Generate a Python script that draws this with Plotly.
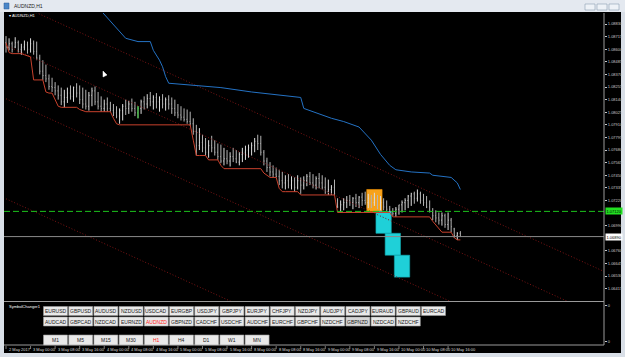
import plotly.graph_objects as go

W, H = 625, 357
def fx(px): return px / W
def fy(py): return 1 - py / H

# ---------------- data ----------------
bar_open = [1.0866, 1.0862, 1.0865, 1.0862, 1.0866, 1.0860, 1.0862, 1.0864, 1.0860, 1.0865,
            1.0858, 1.0852, 1.0840, 1.0836, 1.0833, 1.0826, 1.0825, 1.0822, 1.0818, 1.0812,
            1.0816, 1.0820, 1.0817, 1.0825, 1.0820, 1.0814, 1.0810, 1.0808, 1.0818, 1.0822,
            1.0812, 1.0808, 1.0806, 1.0810, 1.0806, 1.0804, 1.0802, 1.0799, 1.0804, 1.0808,
            1.0806, 1.0810, 1.0806, 1.0802, 1.0806, 1.0812, 1.0810, 1.0815, 1.0812, 1.0816,
            1.0812, 1.0814, 1.0810, 1.0814, 1.0810, 1.0806, 1.0802, 1.0800, 1.0798, 1.0796,
            1.0794, 1.0792, 1.0785, 1.0772, 1.0775, 1.0770, 1.0766, 1.0772, 1.0770, 1.0766,
            1.0762, 1.0758, 1.0760, 1.0758, 1.0762, 1.0760, 1.0757, 1.0764, 1.0766, 1.0768,
            1.0770, 1.0772, 1.0776, 1.0774, 1.0766, 1.0758, 1.0752, 1.0748, 1.0746, 1.0744,
            1.0740, 1.0738, 1.0740, 1.0736, 1.0740, 1.0734, 1.0740, 1.0736, 1.0740, 1.0744,
            1.0738, 1.0736, 1.0742, 1.0738, 1.0734, 1.0730, 1.0732, 1.0734, 1.0722, 1.0716,
            1.0718, 1.0720, 1.0722, 1.0720, 1.0724, 1.0720, 1.0725, 1.0722, 1.0720, 1.0724,
            1.0720, 1.0724, 1.0718, 1.0720, 1.0716, 1.0714, 1.0712, 1.0710, 1.0714, 1.0718,
            1.0720, 1.0722, 1.0726, 1.0728, 1.0724, 1.0728, 1.0722, 1.0720, 1.0716, 1.0712,
            1.0708, 1.0706, 1.0704, 1.0708, 1.0700, 1.0704, 1.0696, 1.0690, 1.0692]
bar_high = [1.0872, 1.0870, 1.0867, 1.0871, 1.0868, 1.0865, 1.0868, 1.0867, 1.0870, 1.0868,
            1.0867, 1.0855, 1.0850, 1.0846, 1.0837, 1.0834, 1.0830, 1.0827, 1.0825, 1.0823,
            1.0825, 1.0827, 1.0826, 1.0829, 1.0827, 1.0825, 1.0823, 1.0821, 1.0825, 1.0826,
            1.0821, 1.0817, 1.0814, 1.0816, 1.0812, 1.0810, 1.0808, 1.0806, 1.0810, 1.0814,
            1.0813, 1.0815, 1.0812, 1.0808, 1.0814, 1.0817, 1.0819, 1.0821, 1.0818, 1.0820,
            1.0817, 1.0819, 1.0816, 1.0818, 1.0816, 1.0814, 1.0810, 1.0808, 1.0806, 1.0805,
            1.0803, 1.0797, 1.0791, 1.0788, 1.0782, 1.0779, 1.0777, 1.0781, 1.0777, 1.0774,
            1.0773, 1.0770, 1.0768, 1.0766, 1.0770, 1.0768, 1.0766, 1.0770, 1.0772, 1.0773,
            1.0775, 1.0779, 1.0782, 1.0781, 1.0768, 1.0761, 1.0757, 1.0754, 1.0752, 1.0750,
            1.0748, 1.0745, 1.0746, 1.0744, 1.0743, 1.0745, 1.0743, 1.0744, 1.0746, 1.0748,
            1.0746, 1.0744, 1.0747, 1.0745, 1.0743, 1.0741, 1.0736, 1.0741, 1.0724, 1.0722,
            1.0724, 1.0726, 1.0727, 1.0725, 1.0728, 1.0726, 1.0729, 1.0730, 1.0728, 1.0727,
            1.0729, 1.0727, 1.0726, 1.0724, 1.0722, 1.0717, 1.0715, 1.0716, 1.0718, 1.0722,
            1.0724, 1.0727, 1.0729, 1.0730, 1.0732, 1.0730, 1.0728, 1.0726, 1.0722, 1.0715,
            1.0713, 1.0711, 1.0711, 1.0710, 1.0711, 1.0706, 1.0697, 1.0693, 1.0694]
bar_low = [1.0857, 1.0859, 1.0857, 1.0861, 1.0857, 1.0855, 1.0859, 1.0856, 1.0857, 1.0855,
           1.0850, 1.0837, 1.0832, 1.0830, 1.0823, 1.0821, 1.0818, 1.0814, 1.0809, 1.0807,
           1.0811, 1.0814, 1.0812, 1.0816, 1.0810, 1.0806, 1.0805, 1.0804, 1.0808, 1.0809,
           1.0805, 1.0803, 1.0803, 1.0803, 1.0803, 1.0799, 1.0797, 1.0792, 1.0795, 1.0800,
           1.0801, 1.0803, 1.0799, 1.0797, 1.0801, 1.0805, 1.0806, 1.0808, 1.0805, 1.0806,
           1.0803, 1.0806, 1.0804, 1.0805, 1.0801, 1.0799, 1.0797, 1.0795, 1.0794, 1.0792,
           1.0790, 1.0782, 1.0763, 1.0768, 1.0766, 1.0763, 1.0761, 1.0766, 1.0763, 1.0759,
           1.0756, 1.0754, 1.0755, 1.0753, 1.0757, 1.0756, 1.0754, 1.0757, 1.0759, 1.0761,
           1.0763, 1.0766, 1.0768, 1.0763, 1.0754, 1.0748, 1.0744, 1.0743, 1.0743, 1.0736,
           1.0733, 1.0732, 1.0733, 1.0732, 1.0730, 1.0732, 1.0728, 1.0732, 1.0735, 1.0736,
           1.0733, 1.0732, 1.0733, 1.0732, 1.0728, 1.0727, 1.0727, 1.0727, 1.0715, 1.0711,
           1.0713, 1.0715, 1.0717, 1.0714, 1.0716, 1.0715, 1.0717, 1.0718, 1.0715, 1.0715,
           1.0717, 1.0714, 1.0713, 1.0713, 1.0711, 1.0711, 1.0708, 1.0707, 1.0709, 1.0711,
           1.0713, 1.0715, 1.0717, 1.0719, 1.0721, 1.0719, 1.0717, 1.0715, 1.0711, 1.0704,
           1.0702, 1.0700, 1.0699, 1.0697, 1.0695, 1.0693, 1.0688, 1.0686, 1.0689]
bar_close = [1.0862, 1.0865, 1.0860, 1.0866, 1.0860, 1.0862, 1.0864, 1.0860, 1.0865, 1.0858,
             1.0852, 1.0840, 1.0836, 1.0833, 1.0826, 1.0825, 1.0822, 1.0818, 1.0812, 1.0816,
             1.0820, 1.0817, 1.0825, 1.0820, 1.0814, 1.0810, 1.0808, 1.0818, 1.0822, 1.0812,
             1.0808, 1.0806, 1.0810, 1.0806, 1.0804, 1.0802, 1.0799, 1.0804, 1.0808, 1.0806,
             1.0810, 1.0806, 1.0802, 1.0806, 1.0812, 1.0810, 1.0815, 1.0812, 1.0816, 1.0812,
             1.0814, 1.0810, 1.0814, 1.0810, 1.0806, 1.0802, 1.0800, 1.0798, 1.0796, 1.0794,
             1.0792, 1.0785, 1.0772, 1.0775, 1.0770, 1.0766, 1.0772, 1.0770, 1.0766, 1.0762,
             1.0758, 1.0760, 1.0758, 1.0762, 1.0760, 1.0757, 1.0764, 1.0766, 1.0768, 1.0770,
             1.0772, 1.0776, 1.0774, 1.0766, 1.0758, 1.0752, 1.0748, 1.0746, 1.0744, 1.0740,
             1.0738, 1.0740, 1.0736, 1.0740, 1.0734, 1.0740, 1.0736, 1.0740, 1.0744, 1.0738,
             1.0736, 1.0742, 1.0738, 1.0734, 1.0730, 1.0732, 1.0734, 1.0728, 1.0716, 1.0718,
             1.0720, 1.0722, 1.0720, 1.0724, 1.0720, 1.0725, 1.0722, 1.0720, 1.0724, 1.0720,
             1.0724, 1.0718, 1.0720, 1.0716, 1.0714, 1.0712, 1.0710, 1.0714, 1.0718, 1.0720,
             1.0722, 1.0726, 1.0728, 1.0724, 1.0728, 1.0722, 1.0720, 1.0716, 1.0712, 1.0708,
             1.0706, 1.0704, 1.0708, 1.0700, 1.0704, 1.0698, 1.0690, 1.0692, 1.0689]
highlight_bars = [43]

trail_low = [1.0866, 1.0857, 1.0856, 1.0856, 1.0856, 1.0856, 1.0855, 1.0854, 1.0853, 1.0832,
             1.0832, 1.0832, 1.0832, 1.0821, 1.0820, 1.0820, 1.0814, 1.0808, 1.0807, 1.0807,
             1.0807, 1.0807, 1.0807, 1.0807, 1.0805, 1.0804, 1.0803, 1.0803, 1.0803, 1.0803,
             1.0803, 1.0803, 1.0803, 1.0803, 1.0803, 1.0797, 1.0792, 1.0791, 1.0791, 1.0791,
             1.0791, 1.0791, 1.0791, 1.0791, 1.0791, 1.0791, 1.0791, 1.0791, 1.0791, 1.0791,
             1.0791, 1.0791, 1.0791, 1.0791, 1.0791, 1.0791, 1.0791, 1.0791, 1.0791, 1.0791,
             1.0791, 1.0777, 1.0763, 1.0763, 1.0763, 1.0763, 1.0759, 1.0759, 1.0759, 1.0759,
             1.0754, 1.0751, 1.0751, 1.0751, 1.0751, 1.0751, 1.0751, 1.0751, 1.0751, 1.0751,
             1.0751, 1.0751, 1.0751, 1.0751, 1.0747, 1.0745, 1.0743, 1.0743, 1.0743, 1.0733,
             1.0730, 1.0730, 1.0730, 1.0730, 1.0730, 1.0730, 1.0727, 1.0727, 1.0727, 1.0727,
             1.0727, 1.0727, 1.0727, 1.0727, 1.0727, 1.0727, 1.0727, 1.0727, 1.0711, 1.0711,
             1.0711, 1.0711, 1.0711, 1.0711, 1.0711, 1.0711, 1.0711, 1.0711, 1.0711, 1.0711,
             1.0711, 1.0711, 1.0711, 1.0711, 1.0711, 1.0711, 1.0707, 1.0707, 1.0707, 1.0707,
             1.0707, 1.0707, 1.0707, 1.0707, 1.0707, 1.0707, 1.0707, 1.0707, 1.0707, 1.0703,
             1.0700, 1.0696, 1.0693, 1.0693, 1.0693, 1.0693, 1.0688, 1.0686, 1.0686]

upper_bar = [31, 35, 39, 43, 47, 48, 50, 51, 52, 53, 61, 70, 80, 90, 96, 97, 101, 106,
             110, 115, 119, 122, 125, 127, 132, 138, 139, 142, 145, 147, 148]
upper_val = [1.0895, 1.0882, 1.0870, 1.0867, 1.0867, 1.0859, 1.0850, 1.0844, 1.0835, 1.0829,
             1.0827, 1.0825, 1.0821, 1.0818, 1.0816, 1.0806, 1.0802, 1.0797, 1.0794, 1.0789,
             1.0777, 1.0764, 1.0754, 1.0750, 1.0748, 1.0747, 1.0745, 1.0744, 1.0743, 1.0738,
             1.0732]

channel_bar = [0, 200]
channel_lines = {
    "upper": [1.09061, 1.06505],
    "middle": [1.08636, 1.06080],
    "lower": [1.08148, 1.05592],
    "bottom": [1.07235, 1.04679],
}

renko_bar = [120, 123, 126, 129]
renko_top = [1.0732, 1.0712, 1.0692, 1.0672]
renko_bottom = [1.0712, 1.0692, 1.0672, 1.0652]
renko_kind = ["up", "down", "down", "down"]

signal_level = 1.07120
bid_price = 1.06890

price_ticks = [1.06300, 1.06415, 1.06530, 1.06645, 1.06760, 1.06990, 1.07220,
               1.07335, 1.07450, 1.07565, 1.07680, 1.07795, 1.07910, 1.08025, 1.08140,
               1.08255, 1.08370, 1.08485, 1.08600, 1.08715, 1.08830]

time_bar = [0, 8, 16, 24, 32, 40, 48, 56, 64, 72, 80, 88, 96, 104, 112, 120, 128, 136, 144]
time_text = ["2 May 2017", "3 May 00:00", "3 May 08:00", "3 May 16:00", "4 May 00:00",
             "4 May 08:00", "4 May 16:00", "5 May 00:00", "5 May 08:00", "5 May 16:00",
             "8 May 00:00", "8 May 08:00", "8 May 16:00", "9 May 00:00", "9 May 08:00",
             "9 May 16:00", "10 May 00:00", "10 May 08:00", "10 May 16:00"]

symbols_row1 = ["EURUSD", "GBPUSD", "AUDUSD", "NZDUSD", "USDCAD", "EURGBP", "USDJPY", "GBPJPY",
                "EURJPY", "CHFJPY", "NZDJPY", "AUDJPY", "CADJPY", "EURAUD", "GBPAUD", "EURCAD"]
symbols_row2 = ["AUDCAD", "GBPCAD", "NZDCAD", "EURNZD", "AUDNZD", "GBPNZD", "CADCHF", "USDCHF",
                "AUDCHF", "EURCHF", "GBPCHF", "NZDCHF", "GBPNZD", "NZDCAD", "NZDCHF"]
timeframes = ["M1", "M5", "M15", "M30", "H1", "H4", "D1", "W1", "MN"]
active_symbol = "AUDNZD"
active_tf = "H1"
pressed_row2 = [12]

# ---------------- geometry (pixels) ----------------
CH_L, CH_R, CH_RR = 4, 604, 621
MAIN_T, MAIN_B = 13, 301
SUB_T, SUB_B = 302, 345
BAR0_X, BAR_STEP = 6, 3.07
x_range = [(CH_L + 1 - BAR0_X) / BAR_STEP, (CH_R - BAR0_X) / BAR_STEP]
y_range = [1.06302, 1.08931]

FONT = "Liberation Sans, Arial, sans-serif"

n = len(bar_close)
xs = list(range(n))

fig = go.Figure()
for name, vals in channel_lines.items():
    fig.add_trace(go.Scatter(x=channel_bar, y=vals, mode="lines",
                             line=dict(color="#7c1414", width=1, dash="1px,2px"),
                             showlegend=False, hoverinfo="skip"))
fig.add_trace(go.Ohlc(x=xs, open=bar_open, high=bar_high, low=bar_low, close=bar_close,
                      increasing=dict(line=dict(color="#dcdcdc", width=1)),
                      decreasing=dict(line=dict(color="#b4b4b4", width=1)),
                      tickwidth=0.2, showlegend=False, hoverinfo="skip"))
fig.add_trace(go.Ohlc(x=highlight_bars,
                      open=[bar_open[i] for i in highlight_bars],
                      high=[bar_high[i] for i in highlight_bars],
                      low=[bar_low[i] for i in highlight_bars],
                      close=[bar_close[i] for i in highlight_bars],
                      increasing=dict(line=dict(color="#22c022", width=1)),
                      decreasing=dict(line=dict(color="#22c022", width=1)),
                      tickwidth=0.2, showlegend=False, hoverinfo="skip"))
fig.add_trace(go.Scatter(x=xs, y=trail_low, mode="lines",
                         line=dict(color="#c8412c", width=1), showlegend=False, hoverinfo="skip"))
fig.add_trace(go.Scatter(x=upper_bar, y=upper_val, mode="lines",
                         line=dict(color="#2472c4", width=1), showlegend=False, hoverinfo="skip"))

# subwindow dummy axis
fig.add_trace(go.Scatter(x=[0], y=[0.5], mode="markers", marker=dict(opacity=0),
                         xaxis="x2", yaxis="y2", showlegend=False, hoverinfo="skip"))

shapes = []
ann = []
# frame & black chart area
shapes.append(dict(type="rect", xref="paper", yref="paper", x0=fx(CH_L), x1=fx(CH_RR),
                   y0=fy(353), y1=fy(12), fillcolor="#000000", line=dict(width=0), layer="below"))
# title bar
shapes.append(dict(type="rect", xref="paper", yref="paper", x0=0, x1=1, y0=fy(12), y1=1,
                   fillcolor="#e4e9f0", line=dict(width=0), layer="below"))
shapes.append(dict(type="rect", xref="paper", yref="paper", x0=fx(4), x1=fx(9), y0=fy(9), y1=fy(3),
                   fillcolor="#4a86c8", line=dict(color="#2a5a98", width=0.5), layer="above"))
for bx in [585, 597, 609]:
    shapes.append(dict(type="rect", xref="paper", yref="paper", x0=fx(bx), x1=fx(bx + 10),
                       y0=fy(10), y1=fy(4), fillcolor="#eef2f7",
                       line=dict(color="#8c9db3", width=0.6), layer="above"))
ann.append(dict(x=fx(12), y=fy(6), xref="paper", yref="paper", text="AUDNZD,H1",
                showarrow=False, xanchor="left", yanchor="middle",
                font=dict(family=FONT, size=5, color="#222222")))
# renko boxes (under bars)
for b, t, btm, k in zip(renko_bar, renko_top, renko_bottom, renko_kind):
    col = "#f7a21b" if k == "up" else "#1fd0d8"
    shapes.append(dict(type="rect", xref="x", yref="y", x0=b - 2.5, x1=b + 2.5, y0=btm, y1=t,
                       fillcolor=col, line=dict(color="#0fa9b0" if k == "down" else "#f09000", width=0.6),
                       layer="below"))
# level lines
shapes.append(dict(type="line", xref="paper", yref="y", x0=fx(CH_L), x1=fx(CH_R),
                   y0=signal_level, y1=signal_level,
                   line=dict(color="#1cc21c", width=1, dash="6px,3px"), layer="above"))
shapes.append(dict(type="line", xref="paper", yref="y", x0=fx(CH_L), x1=fx(CH_R),
                   y0=bid_price, y1=bid_price, line=dict(color="#8a8a8a", width=1), layer="above"))
# separators / axis lines
for yy in [MAIN_B + 0.5, SUB_B]:
    shapes.append(dict(type="line", xref="paper", yref="paper", x0=fx(CH_L), x1=fx(CH_R),
                       y0=fy(yy), y1=fy(yy), line=dict(color="#9a9a9a", width=1), layer="above"))
shapes.append(dict(type="line", xref="paper", yref="paper", x0=fx(CH_R), x1=fx(CH_R),
                   y0=fy(SUB_B), y1=fy(MAIN_T), line=dict(color="#9a9a9a", width=1), layer="above"))

# price labels
ann.append(dict(x=fx(CH_R + 1), y=signal_level, xref="paper", yref="y", text="1.07120",
                showarrow=False, xanchor="left", yanchor="middle", bgcolor="#22e022",
                font=dict(family=FONT, size=4, color="#000000"), borderpad=0.5))
ann.append(dict(x=fx(CH_R + 1), y=bid_price, xref="paper", yref="y", text="1.06890",
                showarrow=False, xanchor="left", yanchor="middle", bgcolor="#ffffff",
                font=dict(family=FONT, size=4, color="#000000"), borderpad=0.5))
ann.append(dict(x=fx(7), y=fy(16), xref="paper", yref="paper", text="▾ AUDNZD,H1",
                showarrow=False, xanchor="left", yanchor="middle",
                font=dict(family=FONT, size=4, color="#ffffff")))
ann.append(dict(x=fx(7), y=fy(306), xref="paper", yref="paper", text="SymbolChanger1",
                showarrow=False, xanchor="left", yanchor="middle",
                font=dict(family=FONT, size=4, color="#ffffff")))

# mouse cursor
shapes.append(dict(type="path", xref="paper", yref="paper",
                   path="M %f %f L %f %f L %f %f Z" % (fx(103), fy(71), fx(103), fy(77), fx(107), fy(75)),
                   fillcolor="#ffffff", line=dict(color="#ffffff", width=0.5), layer="above"))

# time axis
for b, t in zip(time_bar, time_text):
    shapes.append(dict(type="line", xref="x", yref="paper", x0=b, x1=b, y0=fy(349), y1=fy(346),
                       line=dict(color="#c8c8c8", width=0.6), layer="above"))
    ann.append(dict(x=b, y=fy(349.5), xref="x", yref="paper", text=t, showarrow=False,
                    xanchor="left", yanchor="middle", xshift=0.5,
                    font=dict(family=FONT, size=4, color="#d8d8d8")))

# symbol-changer buttons
BTN_X0, BTN_STEP, BTN_W = 43.5, 25.2, 24
def button(k, y0, y1, label, active, pressed=False):
    x0 = BTN_X0 + k * BTN_STEP
    shapes.append(dict(type="rect", xref="paper", yref="paper", x0=fx(x0), x1=fx(x0 + BTN_W),
                       y0=fy(y1), y1=fy(y0), fillcolor="#d6d6d6" if pressed else "#e9e9e9",
                       line=dict(color="#9c9c9c", width=0.6), layer="above"))
    ann.append(dict(x=fx(x0 + BTN_W / 2), y=fy((y0 + y1) / 2), xref="paper", yref="paper",
                    text=label, showarrow=False, xanchor="center", yanchor="middle",
                    font=dict(family=FONT, size=5, color="#ff2020" if active else "#1a1a1a")))
for k, s in enumerate(symbols_row1):
    button(k, 306.5, 315.5, s, s == active_symbol)
for k, s in enumerate(symbols_row2):
    button(k, 317, 326, s, s == active_symbol and k == 4, k in pressed_row2)
for k, s in enumerate(timeframes):
    button(k, 335, 345, s, s == active_tf)

fig.update_layout(
    width=W, height=H, margin=dict(l=0, r=0, t=0, b=0),
    paper_bgcolor="#d9dfe7", plot_bgcolor="#000000",
    xaxis=dict(domain=[fx(CH_L + 1), fx(CH_R)], range=x_range, visible=False,
               rangeslider=dict(visible=False), fixedrange=True),
    yaxis=dict(domain=[fy(MAIN_B), fy(MAIN_T)], range=y_range, side="right",
               tickvals=price_ticks, ticktext=["%.5f" % v for v in price_ticks],
               tickfont=dict(family=FONT, size=4, color="#c8c8c8"),
               ticks="outside", ticklen=2, tickcolor="#c8c8c8", tickwidth=0.6,
               showgrid=False, zeroline=False, showline=False),
    xaxis2=dict(domain=[fx(CH_L + 1), fx(CH_R)], range=x_range, visible=False,
                anchor="y2", matches="x"),
    yaxis2=dict(domain=[fy(SUB_B), fy(SUB_T)], range=[0, 1], side="right", anchor="x2",
                tickvals=[0.92, 0.07], ticktext=["0", "0"],
                tickfont=dict(family=FONT, size=4, color="#c8c8c8"),
                ticks="outside", ticklen=2, tickcolor="#c8c8c8", tickwidth=0.6,
                showgrid=False, zeroline=False, showline=False),
    shapes=shapes, annotations=ann, showlegend=False,
)
fig.write_html("out.html")
